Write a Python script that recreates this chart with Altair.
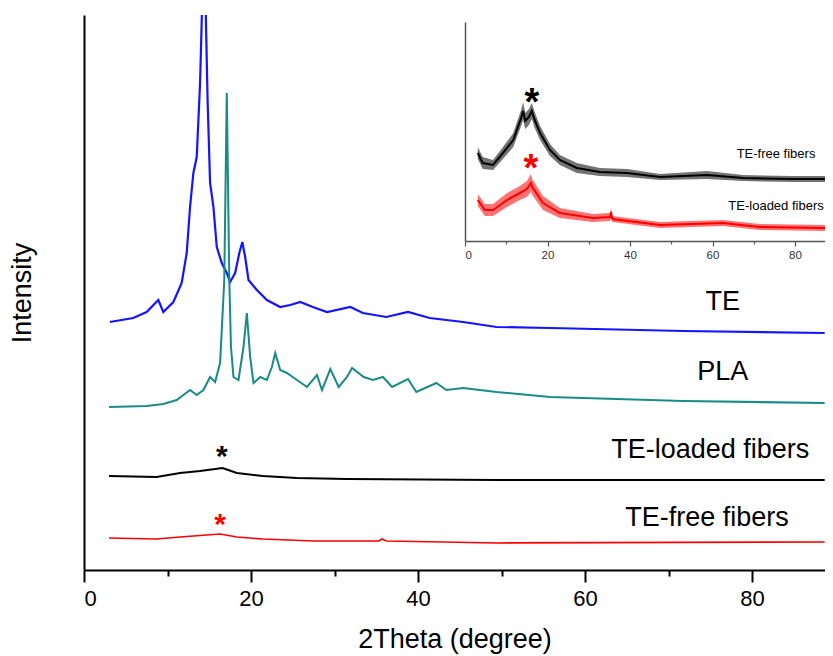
import altair as alt
import pandas as pd

FONT = "Liberation Sans"

# ---------------- main panel data (2theta in degree, intensity a.u.) ----------------
te_theta = [3.1, 5.9, 7.5, 8.9, 9.5, 10.7, 11.7, 12.3, 12.7, 13.1, 13.5, 13.9, 14.1, 14.4,
            14.6, 14.8, 15.1, 15.5, 15.9, 16.5, 17.1, 17.5, 18.1, 18.6, 18.96, 19.3, 19.7,
            20.7, 21.9, 23.5, 24.7, 25.9, 27.4, 29.1, 31.9, 33.4, 36.2, 38.8, 41.4, 45.4,
            49.4, 55.8, 71.8, 88.7]
te_int = [248, 252, 258, 270, 258, 268, 287, 317, 363, 397, 413, 487, 550, 640,
          550, 470, 387, 363, 323, 307, 297, 288, 297, 317, 328, 313, 290,
          280, 270, 263, 265, 268, 263, 258, 263, 257, 253, 258, 252, 248,
          243, 242, 239, 237]

pla_theta = [3.0, 7.5, 9.5, 11.1, 12.7, 13.5, 14.3, 15.1, 15.7, 16.3, 16.6, 16.8, 17.1,
             17.4, 17.6, 17.9, 18.5, 19.1, 19.5, 19.9, 20.3, 21.1, 21.9, 22.5, 22.9, 23.5,
             24.3, 25.5, 26.7, 27.9, 28.5, 29.5, 30.5, 31.5, 32.1, 33.5, 34.6, 35.8, 36.9,
             38.8, 39.8, 42.2, 43.4, 45.4, 49.4, 55.8, 71.8, 88.7]
pla_int = [163, 164, 166, 170, 180, 175, 180, 193, 188, 207, 257, 290, 477,
           290, 223, 193, 190, 223, 257, 213, 187, 193, 190, 203, 217, 200,
           197, 190, 183, 195, 180, 201, 183, 193, 202, 193, 190, 193, 183,
           191, 178, 187, 180, 182, 178, 173, 169, 167]

loaded_theta = [3.0, 8.7, 11.5, 13.9, 16.6, 18.3, 21.4, 25.5, 31.5, 49.4, 88.7]
loaded_int = [94, 93, 97, 99, 102, 97, 94, 92, 91, 90, 90]

free_theta = [3.0, 8.7, 11.5, 16.3, 18.3, 21.4, 27.5, 35.3, 35.7, 36.2, 43.0, 49.4, 88.7]
free_int = [32, 31, 33, 36, 33, 31, 29, 29, 31, 29, 28, 27, 28]

main_series = ["TE", "PLA", "TE-loaded fibers", "TE-free fibers"]
main_colors = ["#1414ff", "#1a8c88", "#000000", "#ff0000"]
main_widths = [2.2, 1.7, 1.8, 1.8]

# label annotations (main)
lab_text = ["TE", "PLA", "TE-loaded fibers", "TE-free fibers"]
lab_theta = [76.5, 76.5, 75.0, 74.6]
lab_int = [268, 198, 120, 52]

star_series = ["TE-loaded fibers", "TE-free fibers"]
star_theta = [16.5, 16.3]
star_int = [104, 36]

# ---------------- inset data (value and half-thickness of the noisy trace) ----------------
in_free_theta = [3.1, 4.3, 6.8, 9.2, 11.7, 13.6, 14.1, 14.6, 15.5, 16.2, 16.8, 18.2, 20.6,
                 23.0, 27.1, 32.7, 39.3, 47.3, 58.7, 67.4, 79.5, 87.3]
in_free_int = [88, 78, 76, 88, 101, 123, 130, 120, 124, 130, 122, 108, 91,
               81, 73, 69, 68, 64, 66, 63, 62, 62]
in_free_spread = [6, 6, 5, 6, 7, 8, 9, 8, 8, 8, 8, 7, 6,
                  5, 5, 4, 4, 3, 4, 3, 3, 3]

in_loaded_theta = [3.1, 4.8, 6.8, 10.2, 13.3, 15.0, 16.0, 16.3, 18.9, 23.0, 31.0, 35.2,
                   35.4, 35.7, 47.3, 62.5, 71.5, 87.3]
in_loaded_int = [41, 31, 31, 41, 48, 52, 58, 54, 38, 28, 23, 24,
                 29, 22, 16, 18, 14, 13]
in_loaded_spread = [6, 6, 6, 7, 7, 8, 9, 8, 7, 5, 4, 4,
                    4, 3, 3, 3, 3, 3]

in_series = ["TE-free fibers", "TE-loaded fibers"]
in_colors = ["#000000", "#ff0000"]

in_lab_text = ["TE-free fibers", "TE-loaded fibers"]
in_lab_theta = [75.4, 75.4]
in_lab_int = [87, 35]

in_star_series = ["TE-free fibers", "TE-loaded fibers"]
in_star_theta = [16.2, 16.0]
in_star_int = [126, 60]

# ---------------- tables ----------------
def long(items):
    rows = []
    for name, cols in items:
        for vals in zip(*cols):
            row = {"series": name, "theta": vals[0], "intensity": vals[1]}
            if len(vals) > 2:
                row["spread"] = vals[2]
            rows.append(row)
    return pd.DataFrame(rows)

main_df = long([("TE", (te_theta, te_int)), ("PLA", (pla_theta, pla_int)),
                ("TE-loaded fibers", (loaded_theta, loaded_int)),
                ("TE-free fibers", (free_theta, free_int))])
lab_df = pd.DataFrame({"label": lab_text, "theta": lab_theta, "intensity": lab_int})
star_df = pd.DataFrame({"series": star_series, "theta": star_theta,
                        "intensity": star_int, "s": ["*"] * 2})

in_df = long([("TE-free fibers", (in_free_theta, in_free_int, in_free_spread)),
              ("TE-loaded fibers", (in_loaded_theta, in_loaded_int, in_loaded_spread))])
in_lab_df = pd.DataFrame({"label": in_lab_text, "theta": in_lab_theta, "intensity": in_lab_int})
in_star_df = pd.DataFrame({"series": in_star_series, "theta": in_star_theta,
                           "intensity": in_star_int, "s": ["*"] * 2})

W, H = 741, 555

# ---------------- main panel ----------------
mx = alt.Scale(domain=[0, 88.74], nice=False, zero=False)
my = alt.Scale(domain=[0, 555], nice=False, zero=False)
mcolor = alt.Scale(domain=main_series, range=main_colors)

x_axis = alt.Axis(
    orient="bottom", values=list(range(0, 90, 10)),
    labelExpr="datum.value % 20 === 0 ? datum.label : ''",
    tickSize={"condition": {"test": "datum.value % 20 === 0", "value": 12}, "value": 6},
    tickWidth=2, tickColor="black", domainColor="black", domainWidth=2,
    labelFontSize=22, labelFont=FONT, labelColor="black", labelPadding=6,
    title="2Theta (degree)", titleFontSize=27, titleFont=FONT, titleFontWeight="normal",
    titleColor="black", titlePadding=17, grid=False,
)
y_axis = alt.Axis(
    orient="left", labels=False, ticks=False, domainColor="black", domainWidth=2,
    title="Intensity", titleFontSize=27, titleFont=FONT, titleFontWeight="normal",
    titleColor="black", titlePadding=48, grid=False,
)

main_lines = alt.Chart(main_df).mark_line(clip=True).encode(
    x=alt.X("theta:Q", scale=mx, axis=x_axis),
    y=alt.Y("intensity:Q", scale=my, axis=y_axis),
    color=alt.Color("series:N", scale=mcolor, legend=None),
    strokeWidth=alt.StrokeWidth("series:N",
                                scale=alt.Scale(domain=main_series, range=main_widths),
                                legend=None),
    detail="series:N",
)
main_labels = alt.Chart(lab_df).mark_text(
    fontSize=27, font=FONT, align="center", baseline="middle", color="black"
).encode(x="theta:Q", y="intensity:Q", text="label:N")
main_stars = alt.Chart(star_df).mark_text(
    fontSize=30, font=FONT, fontWeight="bold", align="center", baseline="alphabetic"
).encode(x="theta:Q", y="intensity:Q", text="s:N",
         color=alt.Color("series:N", scale=mcolor, legend=None))

main = alt.layer(main_lines, main_labels, main_stars)

# ---------------- inset ----------------
ix = alt.Scale(domain=[0, 87.27], range=[381, 741], nice=False, zero=False)
iy = alt.Scale(domain=[0, 219], range=[226, 7], nice=False, zero=False)
icolor = alt.Scale(domain=in_series, range=in_colors)

ix_axis = alt.Axis(
    orient="bottom", offset=-329, values=list(range(0, 90, 10)),
    labelExpr="datum.value % 20 === 0 ? datum.label : ''",
    tickSize={"condition": {"test": "datum.value % 20 === 0", "value": 5}, "value": 3},
    tickColor="#555555", domainColor="#555555", domainWidth=1.5, tickWidth=1.2,
    labelFontSize=11.5, labelFont=FONT, labelColor="#333333", labelPadding=3,
    title=None, grid=False,
)
iy_axis = alt.Axis(
    orient="left", offset=-381, labels=False, ticks=False, title=None,
    domainColor="#555555", domainWidth=1.5, grid=False,
)

in_band = alt.Chart(in_df).transform_calculate(
    lo="datum.intensity - datum.spread", hi="datum.intensity + datum.spread"
).mark_area(opacity=0.55).encode(
    x=alt.X("theta:Q", scale=ix, axis=ix_axis),
    y=alt.Y("lo:Q", scale=iy, axis=iy_axis),
    y2="hi:Q",
    color=alt.Color("series:N", scale=icolor, legend=None),
    detail="series:N",
)
in_lines = alt.Chart(in_df).mark_line(strokeWidth=2).encode(
    x=alt.X("theta:Q", scale=ix),
    y=alt.Y("intensity:Q", scale=iy),
    color=alt.Color("series:N", scale=icolor, legend=None),
    detail="series:N",
)
in_labels = alt.Chart(in_lab_df).mark_text(
    fontSize=13, font=FONT, align="center", baseline="middle", color="black"
).encode(x="theta:Q", y="intensity:Q", text="label:N")
in_stars = alt.Chart(in_star_df).mark_text(
    fontSize=38, font=FONT, fontWeight="bold", align="center", baseline="alphabetic"
).encode(x="theta:Q", y="intensity:Q", text="s:N",
         color=alt.Color("series:N", scale=icolor, legend=None))

inset = alt.layer(in_band, in_lines, in_labels, in_stars)

chart = alt.layer(main, inset).resolve_scale(
    x="independent", y="independent", color="independent"
).resolve_axis(x="independent", y="independent").properties(
    width=W, height=H,
    padding={"left": 76, "top": 7, "right": 0, "bottom": 84},
    autosize=alt.AutoSizeParams(type="none"),
    background="white",
).configure_view(stroke=None)

chart.save("out.html", embed_options={"renderer": "svg", "actions": False})
